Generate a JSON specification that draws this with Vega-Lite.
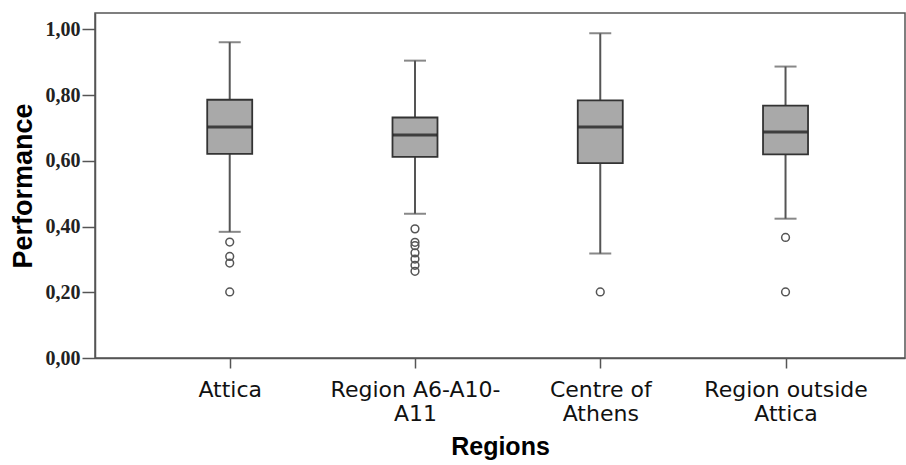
{
  "$schema": "https://vega.github.io/schema/vega-lite/v6.json",
  "width": 810,
  "height": 345,
  "autosize": "none",
  "padding": {"left": 95, "top": 13, "right": 1, "bottom": 107},
  "background": "white",
  "config": {
    "view": {"stroke": "#555555", "strokeWidth": 1.5},
    "axis": {"grid": false, "domainColor": "#555555", "domainWidth": 1.5, "tickColor": "#555555", "tickWidth": 1.5}
  },
  "datasets": {
    "stats": [
      {"region": "Attica", "lower": 0.384, "q1": 0.621, "median": 0.703, "q3": 0.786, "upper": 0.961},
      {"region": "Region A6-A10-A11", "lower": 0.439, "q1": 0.612, "median": 0.679, "q3": 0.732, "upper": 0.905},
      {"region": "Centre of Athens", "lower": 0.318, "q1": 0.593, "median": 0.703, "q3": 0.784, "upper": 0.988},
      {"region": "Region outside Attica", "lower": 0.424, "q1": 0.620, "median": 0.688, "q3": 0.768, "upper": 0.887}
    ],
    "outliers": [
      {"region": "Attica", "value": 0.353},
      {"region": "Attica", "value": 0.309},
      {"region": "Attica", "value": 0.289},
      {"region": "Attica", "value": 0.201},
      {"region": "Region A6-A10-A11", "value": 0.393},
      {"region": "Region A6-A10-A11", "value": 0.352},
      {"region": "Region A6-A10-A11", "value": 0.342},
      {"region": "Region A6-A10-A11", "value": 0.320},
      {"region": "Region A6-A10-A11", "value": 0.301},
      {"region": "Region A6-A10-A11", "value": 0.282},
      {"region": "Region A6-A10-A11", "value": 0.264},
      {"region": "Centre of Athens", "value": 0.201},
      {"region": "Region outside Attica", "value": 0.367},
      {"region": "Region outside Attica", "value": 0.201}
    ]
  },
  "encoding": {
    "x": {
      "field": "region",
      "type": "nominal",
      "sort": null,
      "scale": {"type": "point", "domain": ["Attica", "Region A6-A10-A11", "Centre of Athens", "Region outside Attica"], "padding": 0.686, "align": 0.53},
      "axis": {
        "title": "Regions",
        "titleFont": "Liberation Sans",
        "titleFontSize": 25,
        "titleFontWeight": "bold",
        "titleColor": "#000000",
        "titlePadding": 10,
        "labelFont": "DejaVu Sans",
        "labelFontSize": 22,
        "labelColor": "#111111",
        "labelAngle": 0,
        "labelPadding": 11,
        "labelLineHeight": 24,
        "tickSize": 10,
        "labelExpr": "datum.value == 'Region A6-A10-A11' ? ['Region A6-A10-', 'A11'] : datum.value == 'Centre of Athens' ? ['Centre of', 'Athens'] : datum.value == 'Region outside Attica' ? ['Region outside', 'Attica'] : datum.value"
      }
    }
  },
  "layer": [
    {
      "data": {"name": "stats"},
      "mark": {"type": "rule", "color": "#555555", "strokeWidth": 2},
      "encoding": {
        "y": {
          "field": "lower",
          "type": "quantitative",
          "scale": {"domain": [0, 1.05], "nice": false, "zero": true},
          "axis": {
            "title": "Performance",
            "titleFont": "Liberation Sans",
            "titleFontSize": 27,
            "titleFontWeight": "bold",
            "titleColor": "#000000",
            "titlePadding": 8,
            "values": [0, 0.2, 0.4, 0.6, 0.8, 1.0],
            "labelExpr": "replace(format(datum.value, '.2f'), '.', ',')",
            "labelFont": "Liberation Serif",
            "labelFontSize": 20,
            "labelFontWeight": "bold",
            "labelColor": "#222222",
            "labelPadding": 2,
            "tickSize": 13
          }
        },
        "y2": {"field": "upper"}
      }
    },
    {
      "data": {"name": "stats"},
      "mark": {"type": "tick", "color": "#555555", "size": 22, "thickness": 2},
      "encoding": {"y": {"field": "upper", "type": "quantitative"}}
    },
    {
      "data": {"name": "stats"},
      "mark": {"type": "tick", "color": "#555555", "size": 22, "thickness": 2},
      "encoding": {"y": {"field": "lower", "type": "quantitative"}}
    },
    {
      "data": {"name": "stats"},
      "mark": {"type": "bar", "size": 45, "fill": "#a9a9a9", "stroke": "#333333", "strokeWidth": 1.8, "opacity": 1},
      "encoding": {
        "y": {"field": "q1", "type": "quantitative"},
        "y2": {"field": "q3"}
      }
    },
    {
      "data": {"name": "stats"},
      "mark": {"type": "tick", "color": "#111111", "size": 44, "thickness": 3},
      "encoding": {"y": {"field": "median", "type": "quantitative"}}
    },
    {
      "data": {"name": "outliers"},
      "mark": {"type": "point", "shape": "circle", "filled": false, "size": 60, "stroke": "#555555", "strokeWidth": 1.5, "opacity": 1},
      "encoding": {"y": {"field": "value", "type": "quantitative"}}
    }
  ]
}
